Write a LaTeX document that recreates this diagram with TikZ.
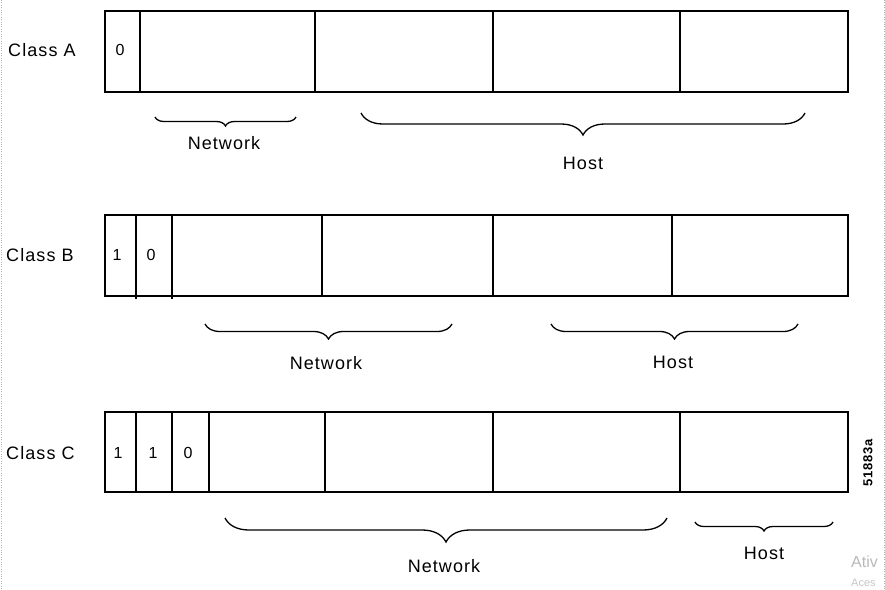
\documentclass[tikz,border=0pt]{standalone}
\usepackage{fontspec}
\setmainfont{Liberation Sans}
\newfontfamily\wide[LetterSpace=6]{Liberation Sans}
\usetikzlibrary{decorations.pathreplacing}
\begin{document}
\begin{tikzpicture}[x=1pt,y=-1pt,
  field/.style={draw=black,line width=1.8pt},
  lbl/.style={font=\wide\fontsize{18}{20}\selectfont,inner sep=0pt},
  bit/.style={font=\fontsize{16}{18}\selectfont,inner sep=0pt},
  brc/.style={decorate,decoration={brace,mirror,amplitude=#1},line width=1.3pt},
  figmark/.style={font=\wide\fontsize{13}{15}\selectfont\bfseries,inner sep=0pt}]
\useasboundingbox (0,0) rectangle (885,589);
\draw[gray!60,dotted] (1,0) -- (1,589) (884,0) -- (884,589);
% Class A
\draw[field] (105,11) rectangle (848,92);
\foreach \x in {140,315,493,680} \draw[field] (\x,11) -- (\x,92);
\node[lbl,anchor=west] (ca) at (8,50) {Class A};
\node[bit] (a0) at (120,50) {0};
\coordinate (anl) at (155,117); \coordinate (anr) at (296,117);
\draw[brc=9] (anl) -- (anr);
\node[lbl] (anet) at (224,143) {Network};
\coordinate (ahl) at (361,113); \coordinate (ahr) at (805,113);
\draw[brc=22] (ahl) -- (ahr);
\node[lbl] (ahost) at (583,163) {Host};
% Class B
\draw[field] (105,215) rectangle (848,296);
\foreach \x in {322,493,672} \draw[field] (\x,215) -- (\x,296);
\foreach \x in {136,172} \draw[field] (\x,215) -- (\x,299);
\node[lbl,anchor=west] (cb) at (6,255) {Class B};
\node[bit] (b1) at (117,255) {1};
\node[bit] (b0) at (151,255) {0};
\coordinate (bnl) at (205,324); \coordinate (bnr) at (452,324);
\draw[brc=15] (bnl) -- (bnr);
\node[lbl] (bnet) at (326,363) {Network};
\coordinate (bhl) at (551,324); \coordinate (bhr) at (798,324);
\draw[brc=15] (bhl) -- (bhr);
\node[lbl] (bhost) at (673,362) {Host};
% Class C
\draw[field] (105,412) rectangle (848,492);
\foreach \x in {136,172,209,325,493,680} \draw[field] (\x,412) -- (\x,492);
\node[lbl,anchor=west] (cc) at (6,453) {Class C};
\node[bit] (c1) at (118,453) {1};
\node[bit] (c2) at (153,453) {1};
\node[bit] (c0) at (188,453) {0};
\coordinate (cnl) at (225,518); \coordinate (cnr) at (667,518);
\draw[brc=24] (cnl) -- (cnr);
\node[lbl] (cnet) at (444,566) {Network};
\coordinate (chl) at (695,522); \coordinate (chr) at (833,522);
\draw[brc=9] (chl) -- (chr);
\node[lbl] (chost) at (764,553) {Host};
\node[figmark,rotate=90] (fig) at (868,463) {51883a};
% watermark
\node[anchor=west,inner sep=0pt,text=gray!55,font=\fontsize{16}{18}\selectfont] (w1) at (851,562) {Ativ};
\node[anchor=west,inner sep=0pt,text=gray!45,font=\fontsize{11}{13}\selectfont] (w2) at (851,583) {Aces};
\end{tikzpicture}
\end{document}
